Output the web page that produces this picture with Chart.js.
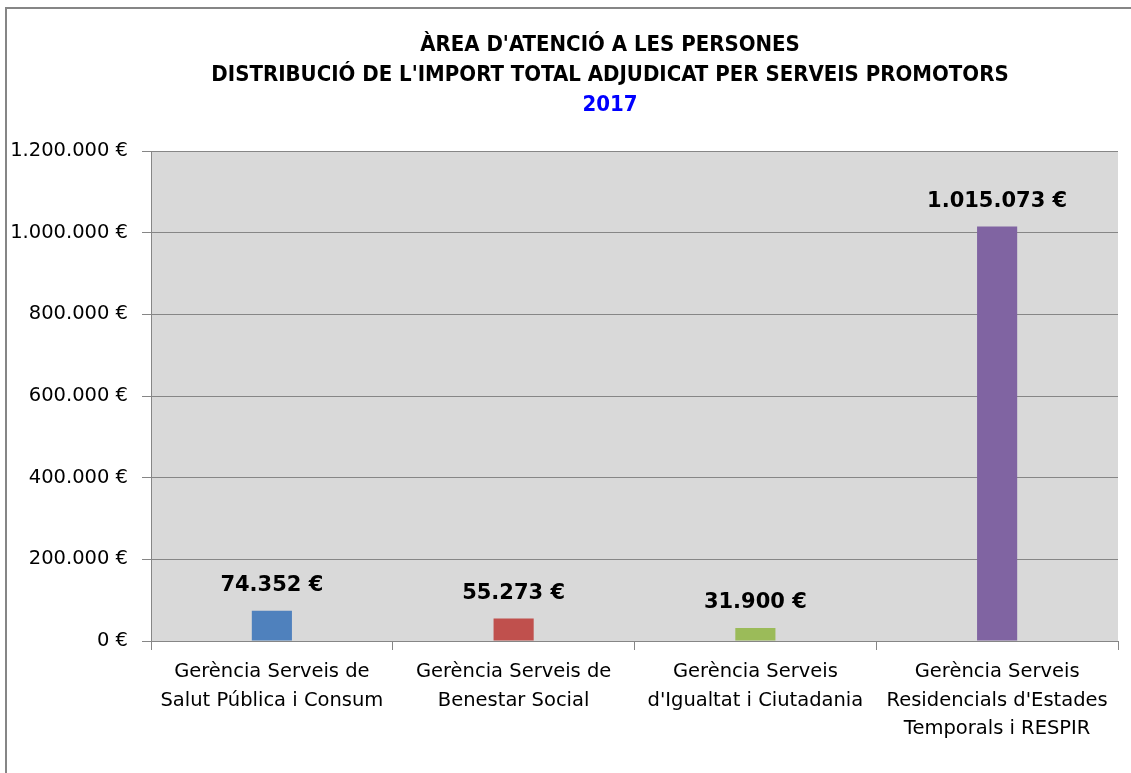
<!DOCTYPE html>
<html lang="ca">
<head>
<meta charset="utf-8">
<title>Àrea d'Atenció a les Persones 2017</title>
<script src="https://cdn.jsdelivr.net/npm/chart.js@4"></script>
<style>
  html, body { margin: 0; padding: 0; background: #fff; overflow: hidden; }
  #marc { position: absolute; left: 5px; top: 7px; width: 1200px; height: 800px;
          border-left: 2px solid #868686; border-top: 2px solid #868686; }
  #caixa { position: absolute; left: 0; top: 0; width: 1131px; height: 773px; }
</style>
</head>
<body>
<div id="marc"></div>
<div id="caixa"><canvas id="grafic"></canvas></div>
<script>
// dades del gràfic
var serveis = [
  ['Gerència Serveis de', 'Salut Pública i Consum'],
  ['Gerència Serveis de', 'Benestar Social'],
  ['Gerència Serveis', "d'Igualtat i Ciutadania"],
  ['Gerència Serveis', "Residencials d'Estades", 'Temporals i RESPIR']
];
var imports = [74352, 55273, 31900, 1015073];
var colors = ['#4f81bd', '#c0504d', '#9bbb59', '#8064a2'];
var titol = ["ÀREA D'ATENCIÓ A LES PERSONES", "DISTRIBUCIÓ DE L'IMPORT TOTAL ADJUDICAT PER SERVEIS PROMOTORS"];
var any = '2017';
var eixMin = 0, eixMax = 1200000, eixPas = 200000;

var GRIS = '#868686';

function euros(n) {
  return String(Math.round(n)).replace(/\B(?=(\d{3})+(?!\d))/g, '.') + ' €';
}

// fons gris de l'àrea de dibuix
var fonsArea = {
  id: 'fonsArea',
  beforeDraw: function (chart) {
    var a = chart.chartArea, ctx = chart.ctx;
    ctx.save();
    ctx.fillStyle = '#d9d9d9';
    ctx.fillRect(a.left, a.top, a.right - a.left, a.bottom - a.top);
    ctx.restore();
  }
};

// l'eix Y és estret (per centrar el títol), però les etiquetes han de poder
// sortir cap a l'esquerra sense retallar-se
var eixAmple = {
  id: 'eixAmple',
  afterLayout: function (chart) { chart.scales.y.left = 0; }
};

// etiquetes de valor damunt de cada barra
var etiquetes = {
  id: 'etiquetes',
  afterDatasetsDraw: function (chart) {
    var ctx = chart.ctx;
    var meta = chart.getDatasetMeta(0);
    ctx.save();
    ctx.font = 'bold 21px "DejaVu Sans", sans-serif';
    ctx.fillStyle = '#000';
    ctx.textAlign = 'center';
    ctx.textBaseline = 'middle';
    meta.data.forEach(function (bar, i) {
      ctx.fillText(euros(imports[i]), bar.x, bar.y - 25);
    });
    ctx.restore();
  }
};

var fontTitol = { family: '"DejaVu Sans Condensed", "DejaVu Sans", sans-serif', size: 22, weight: 'bold', lineHeight: 30 / 22 };

new Chart(document.getElementById('grafic'), {
  type: 'bar',
  data: {
    labels: serveis,
    datasets: [{ data: imports, backgroundColor: colors, borderWidth: 0,
                 categoryPercentage: 1, barPercentage: 0.166 }]
  },
  options: {
    responsive: true,
    maintainAspectRatio: false,
    animation: false,
    // marge esquerre gran perquè el títol quedi centrat com a l'original
    layout: { padding: { top: 10, right: 13, bottom: 0, left: 102 } },
    plugins: {
      legend: { display: false },
      tooltip: { enabled: false },
      title: { display: true, text: titol, color: '#000', font: fontTitol, padding: { top: 20, bottom: 0 } },
      subtitle: { display: true, text: any, color: '#0000ff', font: fontTitol, padding: { top: 0, bottom: 31 } }
    },
    scales: {
      x: {
        grid: { display: true, drawOnChartArea: false, drawTicks: true, tickLength: 9, color: GRIS, offset: true },
        border: { display: true, color: GRIS },
        ticks: { color: '#000', padding: 8, maxRotation: 0, autoSkip: false,
                 font: { family: '"DejaVu Sans", sans-serif', size: 19.5, lineHeight: 28.5 / 19.5 } },
        afterFit: function (s) { s.height = 132; }
      },
      y: {
        min: eixMin, max: eixMax,
        grid: { color: GRIS, tickLength: 9, drawTicks: true },
        border: { display: true, color: GRIS },
        ticks: { stepSize: eixPas, color: '#000', padding: 14,
                 font: { family: '"DejaVu Sans", sans-serif', size: 19.5 },
                 callback: function (v) { return euros(v); } },
        afterFit: function (s) { s.width = 49; }
      }
    }
  },
  plugins: [fonsArea, eixAmple, etiquetes]
});
</script>
</body>
</html>
